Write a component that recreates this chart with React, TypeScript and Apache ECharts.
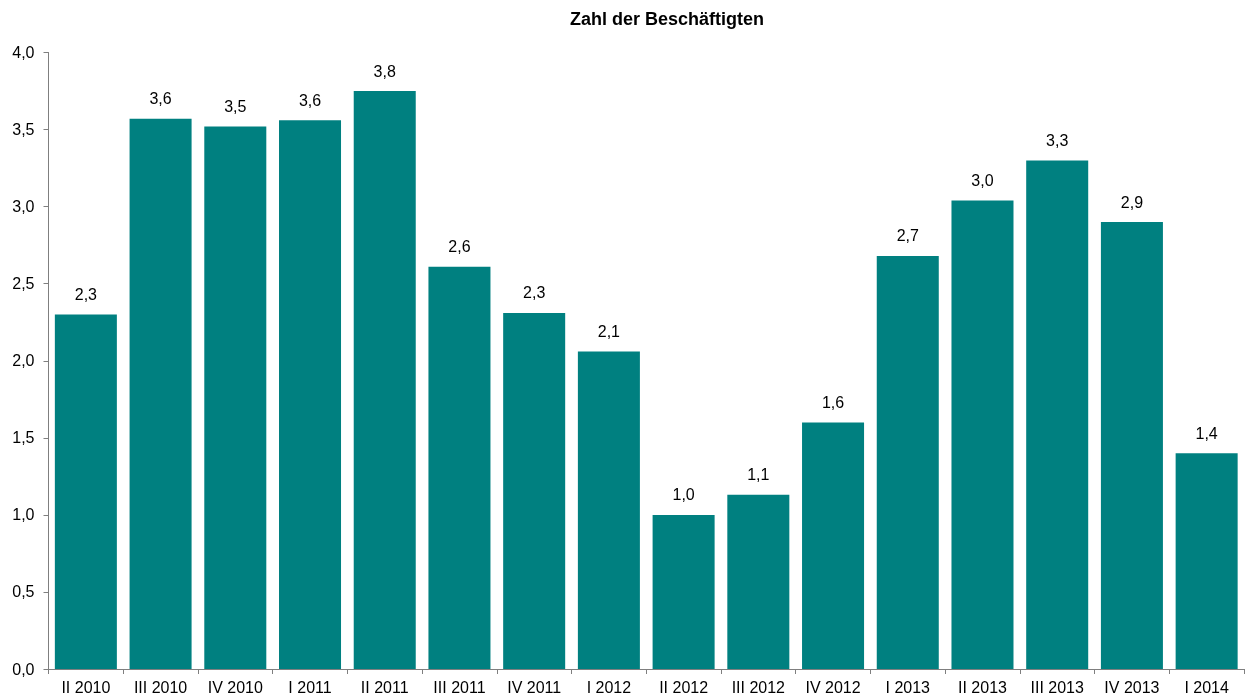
import React, { useEffect, useRef } from "react";
import * as echarts from "echarts";

const categories = [
  "II 2010", "III 2010", "IV 2010", "I 2011", "II 2011", "III 2011", "IV 2011", "I 2012",
  "II 2012", "III 2012", "IV 2012", "I 2013", "II 2013", "III 2013", "IV 2013", "I 2014",
];
const values = [2.3, 3.57, 3.52, 3.56, 3.75, 2.61, 2.31, 2.06, 1.0, 1.13, 1.6, 2.68, 3.04, 3.3, 2.9, 1.4];
const yTicks = { min: 0, max: 4, interval: 0.5 };
const title = "Zahl der Beschäftigten";

const fmt = (v: number) => v.toFixed(1).replace(".", ",");
const FONT = "Liberation Sans, Arial, sans-serif";

export default function App() {
  const ref = useRef<HTMLDivElement>(null);
  useEffect(() => {
    const chart = echarts.init(ref.current!, undefined, { renderer: "svg" });
    chart.setOption({
      animation: false,
      textStyle: { fontFamily: FONT },
      title: {
        text: title,
        left: 662,
        top: 5,
        textAlign: "center",
        textStyle: { fontSize: 18, fontWeight: "bold", color: "#000", fontFamily: FONT },
      },
      grid: { left: 48.5, right: 2, top: 52.5, bottom: 28, containLabel: false },
      xAxis: {
        type: "category",
        data: categories,
        axisLine: { lineStyle: { color: "#7f7f7f", width: 1 } },
        axisTick: { show: true, length: 5, alignWithLabel: false, lineStyle: { color: "#7f7f7f" } },
        axisLabel: { color: "#000", fontSize: 16, margin: 10, interval: 0 },
      },
      yAxis: {
        type: "value",
        min: yTicks.min,
        max: yTicks.max,
        interval: yTicks.interval,
        axisLine: { show: true, lineStyle: { color: "#7f7f7f", width: 1 } },
        axisTick: { show: true, length: 5, lineStyle: { color: "#7f7f7f" } },
        splitLine: { show: false },
        axisLabel: { color: "#000", fontSize: 16, margin: 14, formatter: (v: number) => fmt(v) },
      },
      series: [
        {
          type: "bar",
          data: values,
          barCategoryGap: "17%",
          itemStyle: { color: "#008080" },
          label: {
            show: true,
            position: "top",
            distance: 12,
            color: "#000",
            fontSize: 16,
            formatter: (p: any) => fmt(p.value),
          },
        },
      ],
    });
    return () => chart.dispose();
  }, []);
  return <div ref={ref} style={{ position: "fixed", left: 0, top: 0, width: 1246, height: 697 }} />;
}
